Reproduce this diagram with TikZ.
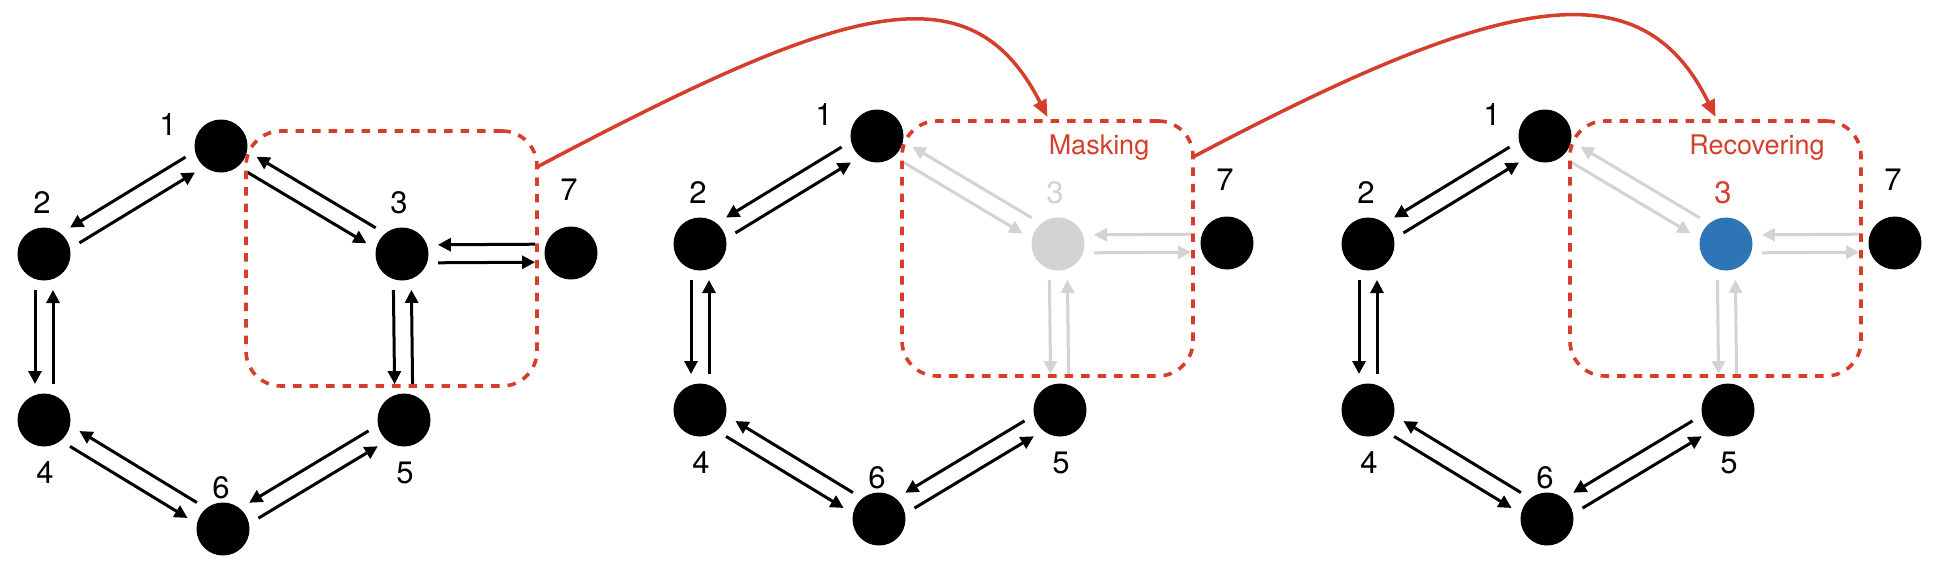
\documentclass[tikz,border=0pt]{standalone}
\usepackage{fontspec}
\setmainfont{TeX Gyre Heros}
\usetikzlibrary{calc,arrows.meta}
\definecolor{myred}{RGB}{214,62,44}
\definecolor{mygray}{RGB}{211,211,211}
\definecolor{myblue}{RGB}{46,117,182}
\tikzset{
  dot/.style={circle, fill=black, minimum size=53pt, inner sep=0pt, outer sep=0pt},
  lbl/.style={font=\fontsize{31}{31}\selectfont, inner sep=0pt},
  arr/.style={line width=3pt, -{Triangle[length=13pt,width=13pt]}},
  maskbox/.style={draw=myred, line width=3.6pt, dash pattern=on 8.5pt off 8pt,
    rounded corners=35pt, minimum width=291pt, minimum height=255pt,
    inner sep=0pt, outer sep=0pt},
  tag/.style={text=myred, font=\fontsize{27}{27}\selectfont, inner sep=0pt},
  jump/.style={draw=myred, line width=3.5pt, -{Triangle[length=17pt,width=14pt]}},
}
% two opposite arrows between two nodes, each on the right-hand side of its direction
\newcommand{\pairarrows}[3][black]{%
  \draw[arr,color=#1] ($(#2)!36pt!(#3)!9pt!-90:(#3)$) -- ($(#3)!36pt!(#2)!9pt!90:(#2)$);
  \draw[arr,color=#1] ($(#3)!36pt!(#2)!9pt!-90:(#2)$) -- ($(#2)!36pt!(#3)!9pt!90:(#3)$);}
% #1 prefix, #2 dx, #3 dy, #4 fill of node 3, #5 colour of label 3, #6 colour of arrows at node 3
\newcommand{\drawpanel}[6]{%
  \begin{scope}[shift={(#2,#3)}]
    \node[dot] (#1n1) at (221,146) {};
    \node[dot] (#1n2) at (44,254) {};
    \node[dot,fill=#4] (#1n3) at (402,254) {};
    \node[dot] (#1n4) at (44,420) {};
    \node[dot] (#1n5) at (404,420) {};
    \node[dot] (#1n6) at (223,529) {};
    \node[dot] (#1n7) at (571,253) {};
    \node[lbl] (#1l1) at (168,125) {1};
    \node[lbl] (#1l2) at (42,203) {2};
    \node[lbl,text=#5] (#1l3) at (399,203) {3};
    \node[lbl] (#1l4) at (45,473) {4};
    \node[lbl] (#1l5) at (405,473) {5};
    \node[lbl] (#1l6) at (221,488) {6};
    \node[lbl] (#1l7) at (569,190) {7};
    \pairarrows{#1n1}{#1n2}
    \pairarrows{#1n2}{#1n4}
    \pairarrows{#1n4}{#1n6}
    \pairarrows{#1n6}{#1n5}
    \pairarrows[#6]{#1n1}{#1n3}
    \pairarrows[#6]{#1n3}{#1n7}
    \pairarrows[#6]{#1n3}{#1n5}
    \node[maskbox] (#1box) at (391.5,258.5) {};
  \end{scope}}
\begin{document}
\begin{tikzpicture}[x=1pt,y=-1pt]
  \useasboundingbox (0,0) rectangle (1944,562);
  \drawpanel{A}{0}{0}{black}{black}{black}
  \drawpanel{B}{656}{-10}{mygray}{mygray}{mygray}
  \drawpanel{C}{1324}{-10}{myblue}{myred}{mygray}
  \node[tag] (mask) at (1099,148) {Masking};
  \node[tag] (recov) at (1757,148) {Recovering};
  \draw[jump] ($(Abox.north east)+(0,36)$) .. controls (845,4) and (970,-35) .. ($(Bbox.north)+(0,-4)$);
  \draw[jump] ($(Bbox.north east)+(0,36)$) .. controls (1503,-7) and (1641,-35) .. ($(Cbox.north)+(0,-4)$);
\end{tikzpicture}
\end{document}
